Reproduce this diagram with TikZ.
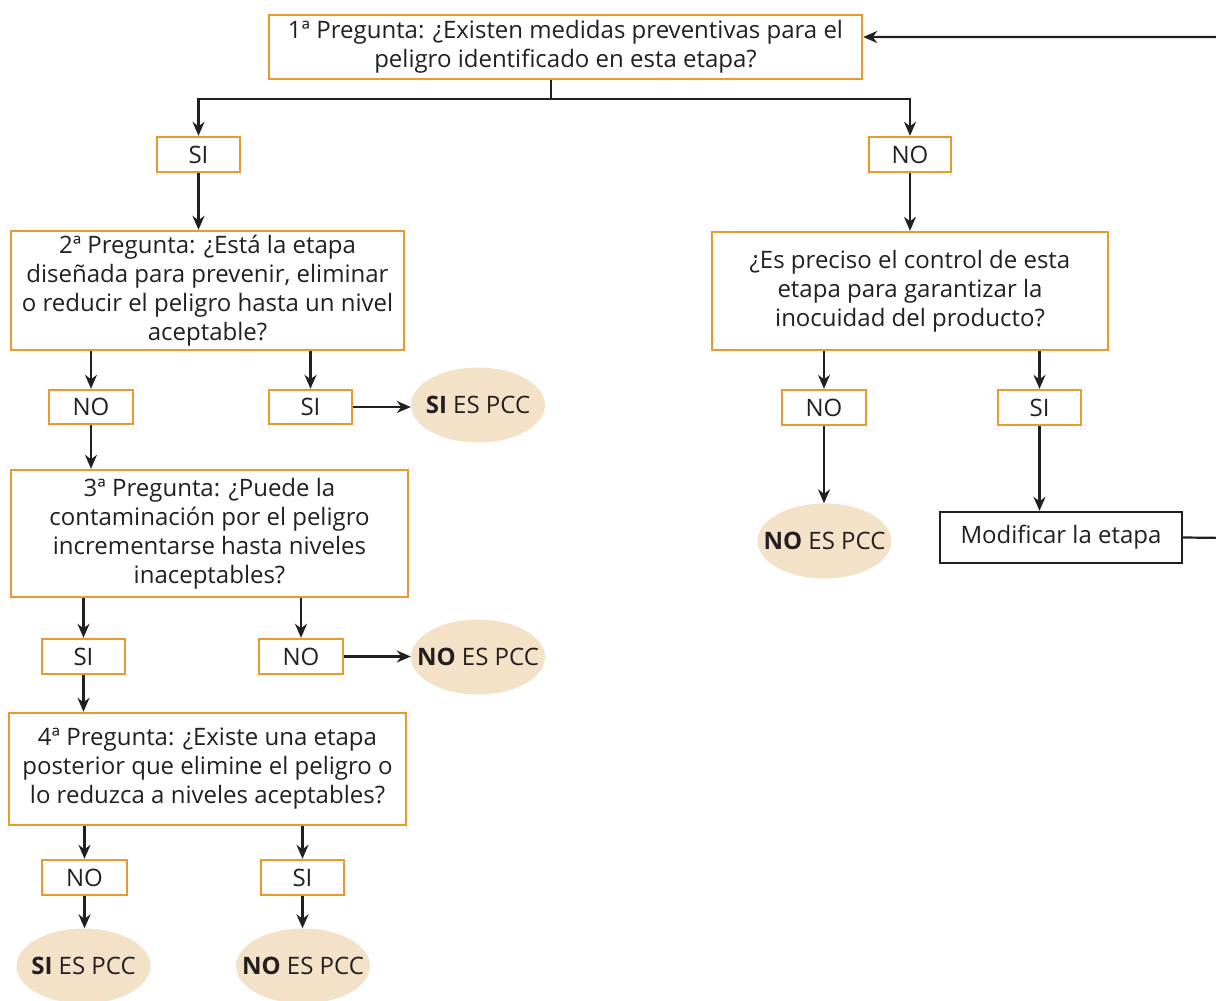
\documentclass[tikz,border=0pt]{standalone}
\usepackage{fontspec}
\setmainfont{Open Sans}
\usetikzlibrary{arrows.meta,calc,shapes.geometric}
\definecolor{orng}{HTML}{E89A2C}
\definecolor{beige}{HTML}{F3E1C8}
\definecolor{ink}{HTML}{231F20}
\tikzset{
  txt/.style={text=ink,font=\fontsize{24}{29}\selectfont},
  qbox/.style={txt,draw=orng,line width=2.4pt,inner sep=0pt,align=center},
  ans/.style={txt,draw=orng,line width=2.4pt,inner sep=0pt},
  res/.style={txt,inner sep=0pt,minimum width=134pt,minimum height=75pt},
  oval/.style={fill=beige},
  blk/.style={txt,draw=ink,line width=2.4pt,inner sep=0pt},
  conn/.style={draw=ink,line width=2.2pt},
  arr/.style={conn,-{Stealth[length=14pt,width=12pt]}},
}
\newcommand\resnode[3]{%
  \fill[oval] (#2) ellipse [x radius=67pt,y radius=37.5pt];
  \node[res] (#1) at (#2) {#3};}
\begin{document}
\begin{tikzpicture}[x=1pt,y=-1pt]
\useasboundingbox (0,0) rectangle (1216,1001);
\node[qbox,minimum width=593pt,minimum height=64pt] (top) at (565.5,47) {1ª Pregunta: ¿Existen medidas preventivas para el\\peligro identificado en esta etapa?};
\node[ans,minimum width=83pt,minimum height=35pt] (SI1) at (198.5,154.5) {SI};
\node[ans,minimum width=82pt,minimum height=35pt] (NO1) at (910,154.5) {NO};
\node[qbox,minimum width=393pt,minimum height=119pt] (Q2) at (207.5,290.5) {2ª Pregunta: ¿Está la etapa\\diseñada para prevenir, eliminar\\o reducir el peligro hasta un nivel\\aceptable?};
\node[ans,minimum width=84pt,minimum height=34pt] (NO2) at (91,407) {NO};
\node[ans,minimum width=83pt,minimum height=34pt] (SI2) at (310.5,407) {SI};
\resnode{E1}{478,405}{\textbf{SI} ES PCC}
\node[qbox,minimum width=397pt,minimum height=127pt] (Q3) at (209.5,533.5) {3ª Pregunta: ¿Puede la\\contaminación por el peligro\\incrementarse hasta niveles\\inaceptables?};
\node[ans,minimum width=83pt,minimum height=35pt] (SI3) at (83.5,656.5) {SI};
\node[ans,minimum width=84pt,minimum height=35pt] (NO3) at (301,656.5) {NO};
\resnode{E2}{478,657}{\textbf{NO} ES PCC}
\node[qbox,minimum width=397pt,minimum height=112pt] (Q4) at (207.5,769) {4ª Pregunta: ¿Existe una etapa\\posterior que elimine el peligro o\\lo reduzca a niveles aceptables?};
\node[ans,minimum width=85pt,minimum height=35pt] (NO4) at (84.5,877.5) {NO};
\node[ans,minimum width=83pt,minimum height=35pt] (SI4) at (302.5,877.5) {SI};
\resnode{E3}{83.5,966}{\textbf{SI} ES PCC}
\resnode{E4}{303,966}{\textbf{NO} ES PCC}
\node[qbox,minimum width=396pt,minimum height=118pt] (Q5) at (910,291) {¿Es preciso el control de esta\\etapa para garantizar la\\inocuidad del producto?};
\node[ans,minimum width=84pt,minimum height=35pt] (NO5) at (824,407.5) {NO};
\node[ans,minimum width=83pt,minimum height=35pt] (SI5) at (1039.5,407.5) {SI};
\resnode{E5}{824.5,541}{\textbf{NO} ES PCC}
\node[blk,minimum width=242pt,minimum height=51pt] (MOD) at (1061,537.5) {Modificar la etapa};
% connectors
\draw[conn] ($(top.south)+(-14.5,0)$) -- ++(0,19) coordinate (j);
\draw[arr] (j) -| (SI1.north);
\draw[arr] (j) -| (NO1.north);
\draw[arr] (SI1.south) -- (SI1 |- Q2.north);
\draw[arr] (NO1.south) -- (NO1 |- Q5.north);
\draw[arr] (NO2 |- Q2.south) -- (NO2.north);
\draw[arr] (SI2 |- Q2.south) -- (SI2.north);
\draw[arr] (SI2.east) -- (SI2.east -| E1.west);
\draw[arr] (NO2.south) -- (NO2 |- Q3.north);
\draw[arr] (SI3 |- Q3.south) -- (SI3.north);
\draw[arr] (NO3 |- Q3.south) -- (NO3.north);
\draw[arr] (NO3.east) -- (NO3.east -| E2.west);
\draw[arr] (SI3.south) -- (SI3 |- Q4.north);
\draw[arr] (NO4 |- Q4.south) -- (NO4.north);
\draw[arr] (SI4 |- Q4.south) -- (SI4.north);
\draw[arr] (NO4.south) -- (NO4 |- E3.north);
\draw[arr] (SI4.south) -- (SI4 |- E4.north);
\draw[arr] (NO5 |- Q5.south) -- (NO5.north);
\draw[arr] (SI5 |- Q5.south) -- (SI5.north);
\draw[arr] (NO5.south) -- (NO5 |- E5.north);
\draw[arr] (SI5.south) -- (SI5 |- MOD.north);
\coordinate (rt) at (1230,538);
\draw[arr] (MOD.east) -- (rt) |- ($(top.east)+(0,-10)$);
\end{tikzpicture}
\end{document}
